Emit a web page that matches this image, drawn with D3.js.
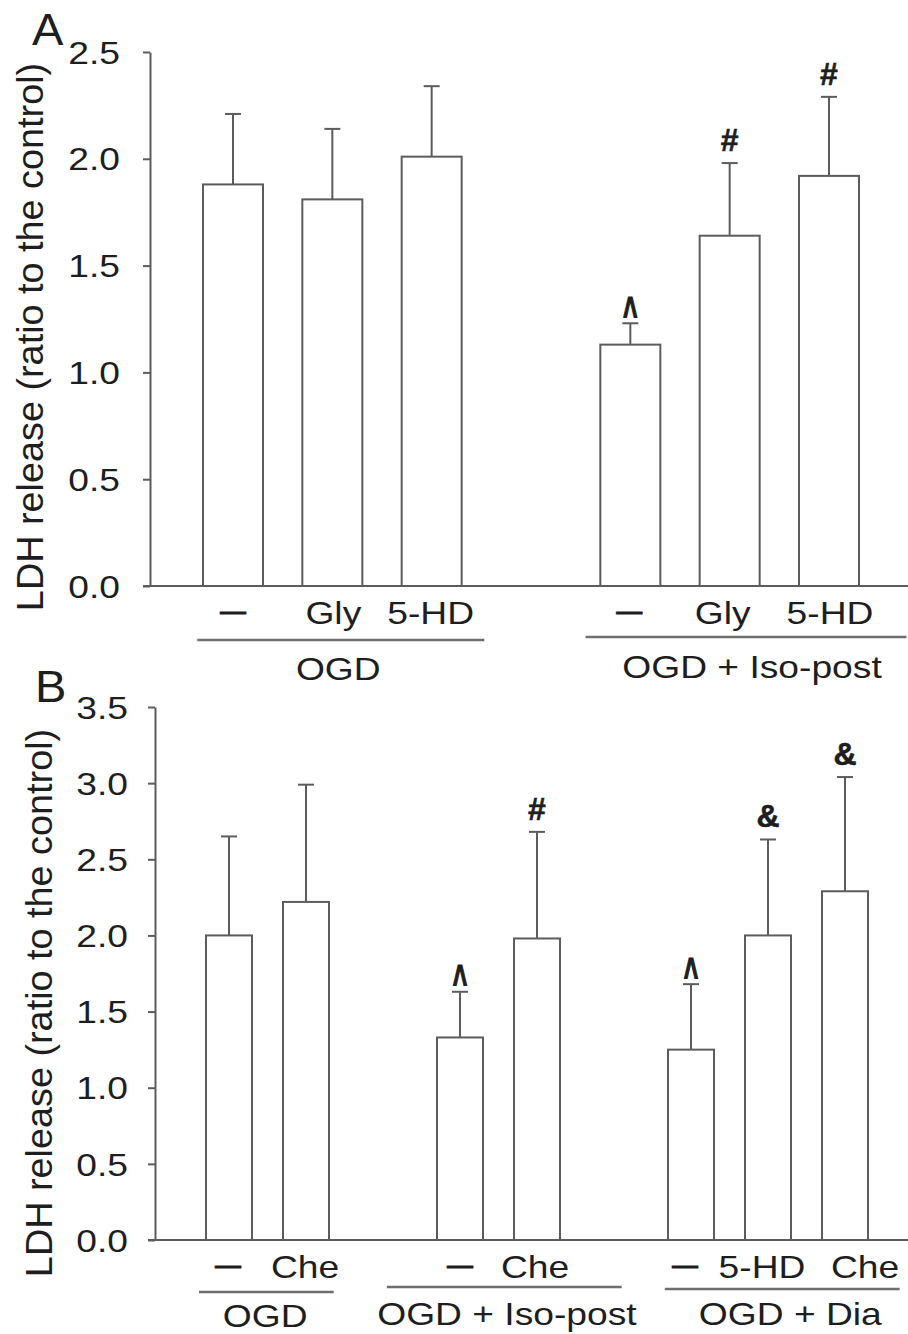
<!DOCTYPE html>
<html>
<head>
<meta charset="utf-8">
<script src="https://cdn.jsdelivr.net/npm/d3@7"></script>
<style>
  html, body { margin: 0; padding: 0; background: #fff; }
  svg { display: block; }
  text { font-family: "Liberation Sans", Arial, sans-serif; fill: #1e1e1e; }
</style>
</head>
<body>
<svg id="chart" width="908" height="1334"></svg>
<script>
// ---------- Panel A data ----------
const A_labels = ["—", "Gly", "5-HD", "—", "Gly", "5-HD"];
const A_slots  = [0, 1, 2, 4, 5, 6];
const A_means  = [1.88, 1.81, 2.01, 1.13, 1.64, 1.92];
const A_sd     = [0.33, 0.33, 0.33, 0.10, 0.34, 0.37];
const A_marks  = ["", "", "", "^", "#", "#"];
const A_groups = ["OGD", "OGD + Iso-post"];
const A_ticks  = [0, 0.5, 1.0, 1.5, 2.0, 2.5];

// ---------- Panel B data ----------
const B_labels = ["—", "Che", "—", "Che", "—", "5-HD", "Che"];
const B_slots  = [0, 1, 3, 4, 6, 7, 8];
const B_means  = [2.00, 2.22, 1.33, 1.98, 1.25, 2.00, 2.29];
const B_sd     = [0.65, 0.77, 0.30, 0.70, 0.43, 0.63, 0.75];
const B_marks  = ["", "", "^", "#", "^", "&", "&"];
const B_groups = ["OGD", "OGD + Iso-post", "OGD + Dia"];
const B_ticks  = [0, 0.5, 1.0, 1.5, 2.0, 2.5, 3.0, 3.5];

const yTitle = "LDH release (ratio to the control)";

// ---------- layout (styling, not data) ----------
const layoutA = {
  letter: "A", letterPos: [32, 45],
  xSlot: [0, 6], xPx: [233, 829],
  yPx: [586, 52], yMax: 2.5,
  axisX: 150, barW: 60, baseEnd: 908,
  tickGap: 30,
  ylab: [43, 337],
  catY: 624, catDx: [0, 1, -1, -1, -7, 1],
  groupLine: [[-0.36, 2.53, 640], [3.55, 6.78, 637]],
  groupLab: [[1.06, 680], [5.225, 678]]
};
const layoutB = {
  letter: "B", letterPos: [35, 702],
  xSlot: [0, 8], xPx: [229, 845],
  yPx: [1240, 707], yMax: 3.5,
  axisX: 155, barW: 46, baseEnd: 908,
  tickGap: 27,
  ylab: [52, 1003],
  catY: 1278, catDx: [-1, -1, 0, -2, -6, -6, 20],
  groupLine: [[-0.39, 1.36, 1292], [2.05, 5.1, 1287], [5.66, 8.71, 1289]],
  groupLab: [[0.47, 1327], [3.61, 1325], [7.29, 1325]]
};

const STROKE = "#5c5c5c";
const svg = d3.select("#chart");
const FS = 31, SX = 1.2;

function htext(g, x, y, s, opt = {}) {
  const sx = opt.sx ?? SX, sy = opt.sy ?? 1;
  const t = g.append("text")
    .attr("transform", `translate(${x},${y}) scale(${sx},${sy})`)
    .attr("text-anchor", opt.anchor ?? "middle")
    .style("font-size", (opt.fs ?? FS) + "px")
    .style("font-weight", opt.bold ? "bold" : null)
    .text(s);
  if (opt.outline) t.attr("stroke", "#1e1e1e").attr("stroke-width", opt.outline);
  return t;
}

function drawPanel(L, labels, slots, means, sds, marks, groups, ticks) {
  const g = svg.append("g");
  const x = d3.scaleLinear().domain(L.xSlot).range(L.xPx);
  const y = d3.scaleLinear().domain([0, L.yMax]).range(L.yPx);

  // baseline
  g.append("line")
    .attr("x1", L.axisX - 7).attr("x2", L.baseEnd)
    .attr("y1", y(0)).attr("y2", y(0))
    .attr("stroke", STROKE).attr("stroke-width", 2);

  // y axis
  const ax = g.append("g").attr("transform", `translate(${L.axisX},0)`)
    .call(d3.axisLeft(y).tickValues(ticks).tickSize(7).tickSizeOuter(0)
      .tickFormat(d3.format(".1f")));
  ax.select(".domain").attr("stroke", STROKE).attr("stroke-width", 2);
  ax.selectAll(".tick line").attr("stroke", STROKE).attr("stroke-width", 2);
  ax.selectAll(".tick text")
    .attr("x", 0).attr("dy", "0.36em")
    .attr("transform", `translate(${-L.tickGap},0) scale(${SX},1)`)
    .attr("text-anchor", "end")
    .attr("fill", "#1e1e1e")
    .style("font-size", FS + "px")
    .style("font-family", '"Liberation Sans", Arial, sans-serif');

  const data = means.map((m, i) => ({ m, sd: sds[i], s: slots[i], lab: labels[i], mark: marks[i], i }));

  // error bars (upper only)
  g.selectAll(".err").data(data).enter().append("line")
    .attr("x1", d => x(d.s)).attr("x2", d => x(d.s))
    .attr("y1", d => y(d.m)).attr("y2", d => y(d.m + d.sd))
    .attr("stroke", STROKE).attr("stroke-width", 2);
  g.selectAll(".cap").data(data).enter().append("line")
    .attr("x1", d => x(d.s) - 8).attr("x2", d => x(d.s) + 8)
    .attr("y1", d => y(d.m + d.sd)).attr("y2", d => y(d.m + d.sd))
    .attr("stroke", STROKE).attr("stroke-width", 2);

  // bars
  g.selectAll(".bar").data(data).enter().append("rect")
    .attr("x", d => x(d.s) - L.barW / 2)
    .attr("width", L.barW)
    .attr("y", d => y(d.m))
    .attr("height", d => y(0) - y(d.m))
    .attr("fill", "#fff")
    .attr("stroke", STROKE).attr("stroke-width", 2);

  // significance marks
  data.forEach(d => {
    if (!d.mark) return;
    const top = y(d.m + d.sd);
    if (d.mark === "^") {
      htext(g, x(d.s), top - 10 + 0.33 * 30 * 1.45, "^", { fs: 30, bold: true, sx: 0.8, sy: 1.45, outline: 1.3 });
    } else {
      htext(g, x(d.s), top - 12, d.mark, { fs: 32, bold: true, sx: 1, outline: 0.6 });
    }
  });

  // category labels
  data.forEach(d => {
    if (d.lab === "—") {
      htext(g, x(d.s) + L.catDx[d.i], L.catY - 3, "—", { sx: 0.84, outline: 0.8 });
    } else {
      htext(g, x(d.s) + L.catDx[d.i], L.catY, d.lab);
    }
  });

  // group underlines and labels
  groups.forEach((name, k) => {
    const [a, b, ly] = L.groupLine[k];
    g.append("line")
      .attr("x1", x(a)).attr("x2", x(b)).attr("y1", ly).attr("y2", ly)
      .attr("stroke", "#6e6e6e").attr("stroke-width", 2.5);
    const [c, ty] = L.groupLab[k];
    htext(g, x(c), ty, name);
  });

  // y title
  g.append("text")
    .attr("transform", `translate(${L.ylab[0]},${L.ylab[1]}) rotate(-90) scale(1.05,1)`)
    .attr("text-anchor", "middle")
    .style("font-size", "36px")
    .text(yTitle);

  // panel letter
  htext(g, L.letterPos[0], L.letterPos[1], L.letter, { fs: 44, sx: 1.07, anchor: "start" });
}

drawPanel(layoutA, A_labels, A_slots, A_means, A_sd, A_marks, A_groups, A_ticks);
drawPanel(layoutB, B_labels, B_slots, B_means, B_sd, B_marks, B_groups, B_ticks);
</script>
</body>
</html>
